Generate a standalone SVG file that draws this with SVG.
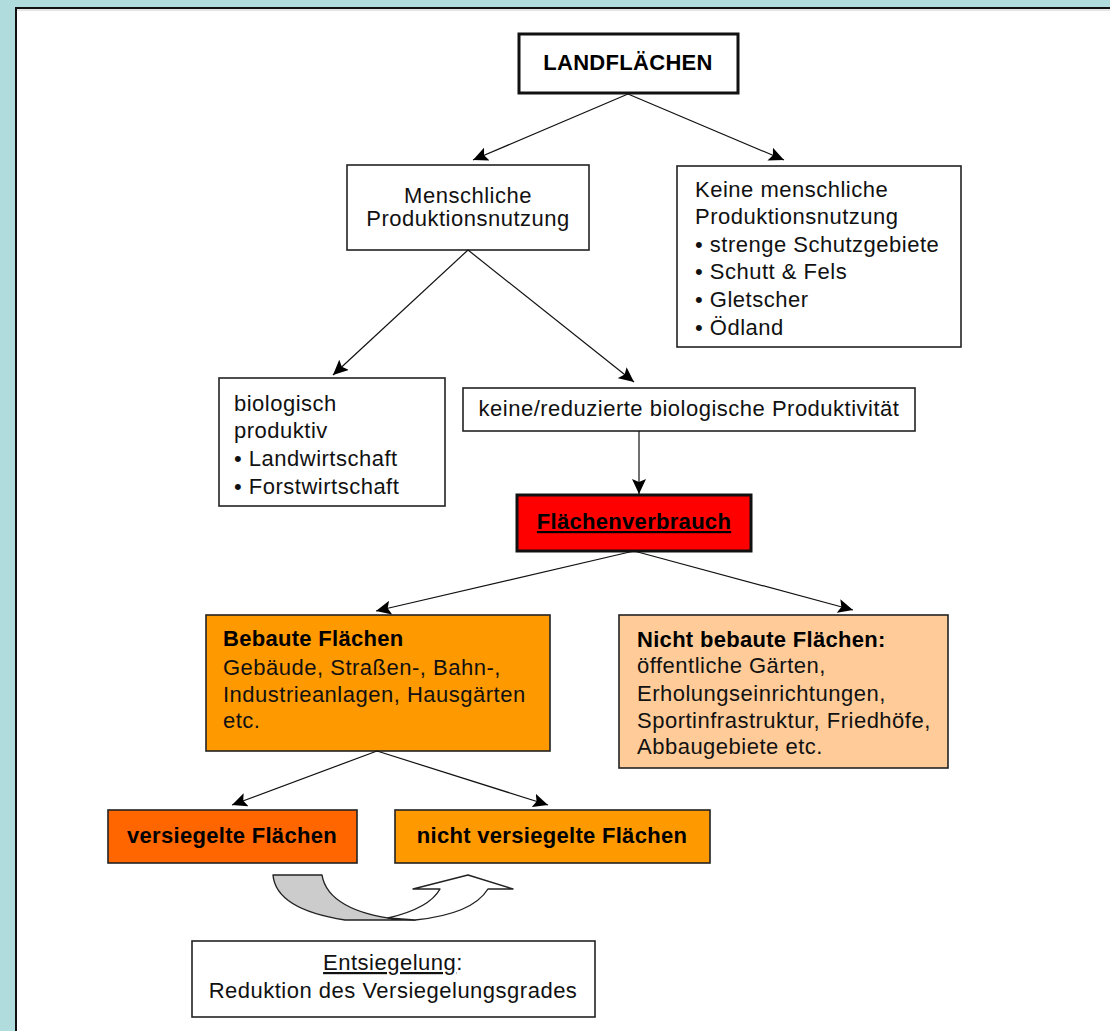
<svg xmlns="http://www.w3.org/2000/svg" width="1110" height="1031" viewBox="0 0 1110 1031">
<defs>
<marker id="ah" markerUnits="userSpaceOnUse" markerWidth="16" markerHeight="14" refX="15" refY="7" orient="auto">
<path d="M0,0 L15,7 L0,14 L3,7 Z" fill="#000"/>
</marker>
<style>
.box{stroke:#222;stroke-width:1.6}
.t{font-family:"Liberation Sans",Arial,sans-serif;font-size:22px;letter-spacing:0.5px;fill:#111}
.b{font-family:"Liberation Sans",Arial,sans-serif;font-size:22px;font-weight:bold;letter-spacing:0.3px;fill:#000}
.c{text-anchor:middle}
.con line{stroke:#111;stroke-width:1.2;marker-end:url(#ah)}
</style>
</defs>
<rect x="0" y="0" width="1110" height="1031" fill="#b1dcdd"/>
<rect x="16" y="8" width="1100" height="1030" fill="#fff" stroke="#111" stroke-width="2"/>
<line x1="17" y1="10" x2="1110" y2="10" stroke="#ccc" stroke-width="1"/>

<g id="n-landflaechen">
<rect x="519" y="34" width="219" height="59" fill="#fff" stroke="#111" stroke-width="3"/>
<text class="b c" x="628" y="70">LANDFLÄCHEN</text>
</g>
<g id="n-menschlich">
<rect class="box" x="347" y="165" width="242" height="85" fill="#fff"/>
<text class="t c" x="468" y="203">Menschliche</text>
<text class="t c" x="468" y="226">Produktionsnutzung</text>
</g>
<g id="n-keine">
<rect class="box" x="677" y="166" width="284" height="181" fill="#fff"/>
<text class="t" x="695" y="197">Keine menschliche</text>
<text class="t" x="695" y="224">Produktionsnutzung</text>
<text class="t" x="695" y="252">• strenge Schutzgebiete</text>
<text class="t" x="695" y="279">• Schutt &amp; Fels</text>
<text class="t" x="695" y="307">• Gletscher</text>
<text class="t" x="695" y="335">• Ödland</text>
</g>
<g id="n-biologisch">
<rect class="box" x="219" y="378" width="226" height="128" fill="#fff"/>
<text class="t" x="234" y="411">biologisch</text>
<text class="t" x="234" y="438">produktiv</text>
<text class="t" x="234" y="466">• Landwirtschaft</text>
<text class="t" x="234" y="494">• Forstwirtschaft</text>
</g>
<g id="n-reduziert">
<rect class="box" x="463" y="388" width="452" height="43" fill="#fff"/>
<text class="t c" x="689" y="416">keine/reduzierte biologische Produktivität</text>
</g>
<g id="n-flaechenverbrauch">
<rect x="517" y="495" width="234" height="56" fill="#ff0000" stroke="#111" stroke-width="3"/>
<text class="b c" x="634" y="529" text-decoration="underline">Flächenverbrauch</text>
</g>
<g id="n-bebaut">
<rect class="box" x="206" y="615" width="344" height="136" fill="#ff9900"/>
<text class="b" x="223" y="646">Bebaute Flächen</text>
<text class="t" x="223" y="675">Gebäude, Straßen-, Bahn-,</text>
<text class="t" x="223" y="702">Industrieanlagen, Hausgärten</text>
<text class="t" x="223" y="728">etc.</text>
</g>
<g id="n-nichtbebaut">
<rect class="box" x="619" y="615" width="329" height="153" fill="#ffcc99"/>
<text class="b" x="637" y="647">Nicht bebaute Flächen:</text>
<text class="t" x="637" y="673">öffentliche Gärten,</text>
<text class="t" x="637" y="701">Erholungseinrichtungen,</text>
<text class="t" x="637" y="728">Sportinfrastruktur, Friedhöfe,</text>
<text class="t" x="637" y="754">Abbaugebiete etc.</text>
</g>
<g id="n-versiegelt">
<rect class="box" x="108" y="810" width="249" height="53" fill="#ff6600"/>
<text class="b c" x="232" y="843">versiegelte Flächen</text>
</g>
<g id="n-nichtversiegelt">
<rect class="box" x="395" y="810" width="315" height="53" fill="#ff9900"/>
<text class="b c" x="552" y="843">nicht versiegelte Flächen</text>
</g>
<g id="n-entsiegelung">
<rect class="box" x="192" y="941" width="403" height="76" fill="#fff"/>
<text class="t c" x="393" y="970"><tspan text-decoration="underline">Entsiegelung</tspan>:</text>
<text class="t c" x="393" y="998">Reduktion des Versiegelungsgrades</text>
</g>

<g id="connectors" class="con">
<line x1="628" y1="94" x2="473" y2="160"/>
<line x1="628" y1="94" x2="784" y2="160"/>
<line x1="468" y1="250" x2="333" y2="375"/>
<line x1="468" y1="250" x2="634" y2="382"/>
<line x1="639" y1="431" x2="639" y2="494"/>
<line x1="634" y1="551" x2="376" y2="611"/>
<line x1="634" y1="551" x2="853" y2="610"/>
<line x1="377" y1="751" x2="232" y2="805"/>
<line x1="377" y1="751" x2="548" y2="805"/>
</g>
<g id="curved-arrow" stroke="#222" stroke-width="1.4" stroke-linejoin="round">
<path d="M273,875 L322,875 C326,900 355,914 395,919 L415,920 L345,920 C300,913 275,898 273,875 Z" fill="#cccccc"/>
<path d="M388,918 C418,911 434,900 440,889 L413,889 L468,875 L513,889 L488,889 C478,905 455,916 415,920 Z" fill="#fff"/>
</g>
</svg>
